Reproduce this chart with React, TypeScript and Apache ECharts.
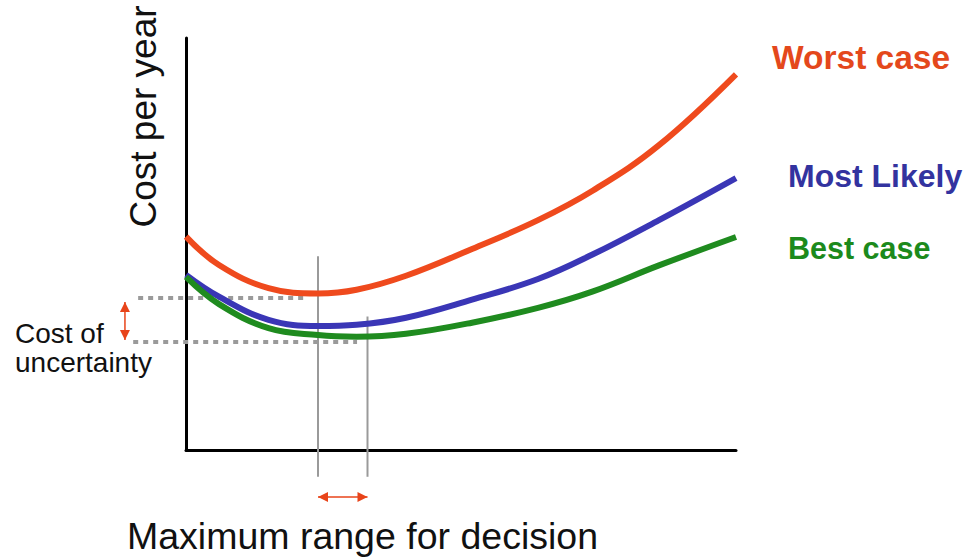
import React, { useEffect, useRef } from "react";
import * as echarts from "echarts";

// x positions (share of the horizontal axis, 0..100)
const xs = [0, 6, 15, 24, 31, 40, 52, 64, 74, 86, 100];
// cost per year (share of the vertical axis, 0..100)
const worstCase = [51.8, 44.9, 39.3, 38.0, 38.9, 42.3, 48.8, 55.8, 63.0, 74.0, 91.2];
const mostLikely = [42.5, 37.2, 31.6, 30.1, 30.4, 32.1, 36.5, 41.5, 47.5, 55.8, 66.0];
const bestCase = [42.0, 35.4, 29.6, 27.9, 27.5, 28.2, 30.9, 34.5, 38.5, 44.8, 51.7];

const seriesNames = ["Worst case", "Most Likely", "Best case"];
const lineColors = ["#ef4a1d", "#3a36b6", "#1f8b1f"];
const labelColors = ["#e4481c", "#33339f", "#1c8a1c"];

// decision range (x) and uncertainty band (y), in data units
const decisionRange = [24, 33];
const uncertaintyBand = [36.9, 26.2];

const FONT = "'Liberation Sans', Arial, sans-serif";

export default function App() {
  const ref = useRef<HTMLDivElement>(null);

  useEffect(() => {
    if (!ref.current) return;
    const chart = echarts.init(ref.current, null, { renderer: "svg" });
    const mk = (vals: number[]) => xs.map((x, i) => [x, vals[i]]);
    const data = [worstCase, mostLikely, bestCase];

    chart.setOption({
      animation: false,
      backgroundColor: "#ffffff",
      grid: { left: 186, right: 234, top: 38, bottom: 108, containLabel: false },
      xAxis: {
        type: "value",
        min: 0,
        max: 100,
        axisLine: { show: true, onZero: false, lineStyle: { color: "#000", width: 3 } },
        axisTick: { show: false },
        axisLabel: { show: false },
        splitLine: { show: false },
      },
      yAxis: {
        type: "value",
        min: 0,
        max: 100,
        axisLine: { show: true, onZero: false, lineStyle: { color: "#000", width: 3 } },
        axisTick: { show: false },
        axisLabel: { show: false },
        splitLine: { show: false },
      },
      series: data.map((vals, i) => ({
        name: seriesNames[i],
        type: "line",
        data: mk(vals),
        smooth: 0.4,
        symbol: "none",
        clip: false,
        z: 3,
        lineStyle: { color: lineColors[i], width: 6 },
      })),
    });

    const px = (x: number, y: number) =>
      chart.convertToPixel({ xAxisIndex: 0, yAxisIndex: 0 }, [x, y]) as number[];

    const gray = "#9a9a9a";
    const red = "#e8441a";

    const arrow = (a: number[], b: number[]) => {
      const dx = b[0] - a[0];
      const dy = b[1] - a[1];
      const len = Math.hypot(dx, dy);
      const ux = dx / len;
      const uy = dy / len;
      const nx = -uy;
      const ny = ux;
      const hl = 10;
      const hw = 5;
      const head = (tip: number[], dir: number) => ({
        type: "polygon",
        shape: {
          points: [
            [tip[0], tip[1]],
            [tip[0] - dir * ux * hl + nx * hw, tip[1] - dir * uy * hl + ny * hw],
            [tip[0] - dir * ux * hl - nx * hw, tip[1] - dir * uy * hl - ny * hw],
          ],
        },
        style: { fill: red },
      });
      return [
        { type: "line", shape: { x1: a[0], y1: a[1], x2: b[0], y2: b[1] }, style: { stroke: red, lineWidth: 1.5 } },
        head(b, 1),
        head(a, -1),
      ];
    };

    const v1Top = px(decisionRange[0], 47);
    const v1Bot = px(decisionRange[0], -6.5);
    const v2Top = px(decisionRange[1], 32.4);
    const v2Bot = px(decisionRange[1], -6.5);
    const d1L = px(-8.7, uncertaintyBand[0]);
    const d1R = px(21.6, uncertaintyBand[0]);
    const d2L = px(-9.6, uncertaintyBand[1]);
    const d2R = px(31.1, uncertaintyBand[1]);
    const hA = px(decisionRange[0], -11.4);
    const hB = px(decisionRange[1], -11.4);
    const vA = px(-11.1, uncertaintyBand[0] - 1);
    const vB = px(-11.1, uncertaintyBand[1] + 0.5);

    const text = (t: string, x: number, y: number, size: number, color: string, bold: boolean, extra: any = {}) => ({
      type: "text",
      x,
      y,
      z: 10,
      ...extra,
      style: {
        text: t,
        font: `${bold ? "bold " : ""}${size}px ${FONT}`,
        fill: color,
        align: extra.align || "left",
        verticalAlign: "middle",
      },
    });

    chart.setOption({
      graphic: [
        { type: "line", z: 1, shape: { x1: v1Top[0], y1: v1Top[1], x2: v1Bot[0], y2: v1Bot[1] }, style: { stroke: gray, lineWidth: 2 } },
        { type: "line", z: 1, shape: { x1: v2Top[0], y1: v2Top[1], x2: v2Bot[0], y2: v2Bot[1] }, style: { stroke: gray, lineWidth: 2 } },
        { type: "line", z: 1, shape: { x1: d1L[0], y1: d1L[1], x2: d1R[0], y2: d1R[1] }, style: { stroke: gray, lineWidth: 4, lineDash: [5, 5] } },
        { type: "line", z: 1, shape: { x1: d2L[0], y1: d2L[1], x2: d2R[0], y2: d2R[1] }, style: { stroke: gray, lineWidth: 4, lineDash: [5, 5] } },
        ...arrow(hA, hB),
        ...arrow(vA, vB),
        text(seriesNames[0], 772, 57.5, 33.5, labelColors[0], true),
        text(seriesNames[1], 788, 176, 32, labelColors[1], true),
        text(seriesNames[2], 788, 247.5, 30.5, labelColors[2], true),
        text("Cost of", 15, 333, 28, "#111", false),
        text("uncertainty", 15, 362, 28, "#111", false),
        text("Maximum range for decision", 127, 536, 37.5, "#111", false),
        text("Cost per year", 143, 116.5, 37, "#111", false, { rotation: Math.PI / 2, align: "center" }),
      ],
    });

    return () => chart.dispose();
  }, []);

  return (
    <div
      ref={ref}
      style={{ position: "fixed", left: 0, top: 0, width: 970, height: 558, background: "#fff" }}
    />
  );
}
